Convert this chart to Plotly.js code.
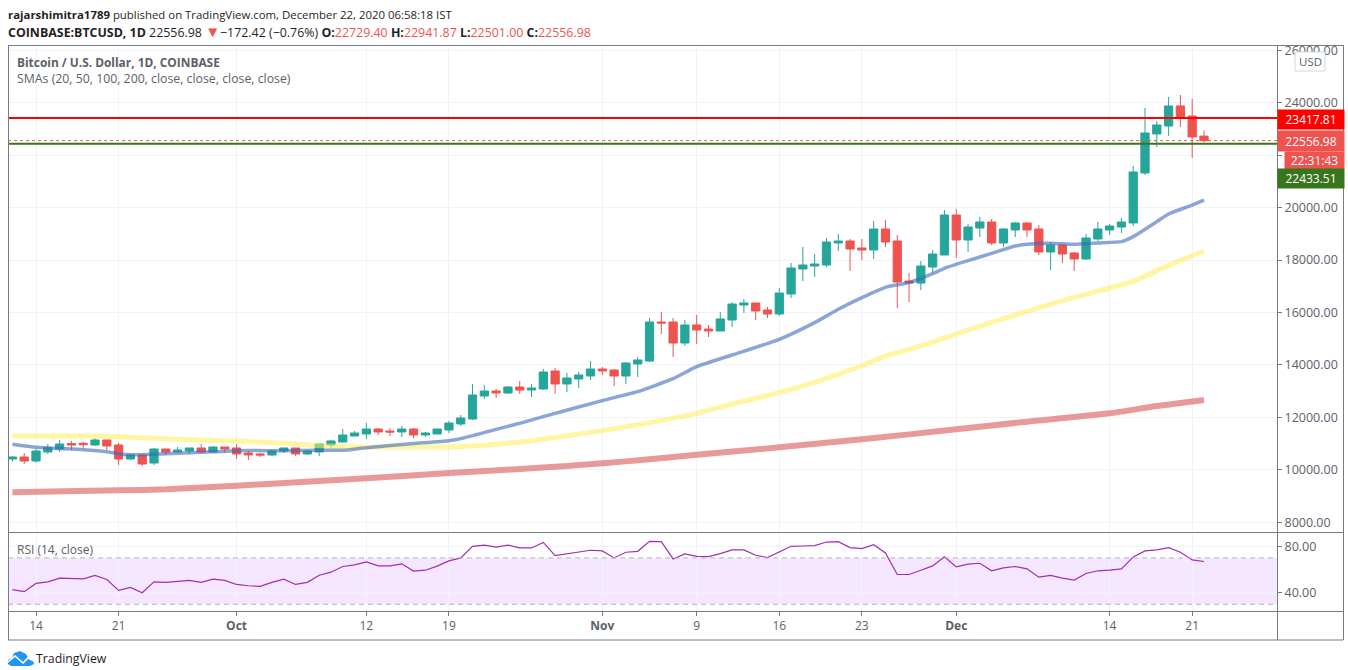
<!DOCTYPE html>
<html><head><meta charset="utf-8">
<script src="https://cdn.plot.ly/plotly-3.0.1.min.js"></script>
<style>html,body{margin:0;padding:0;background:#fff}#c{width:1348px;height:670px}</style>
</head><body><div id="c"></div>
<script>
const dates=["2020-09-12","2020-09-13","2020-09-14","2020-09-15","2020-09-16","2020-09-17","2020-09-18","2020-09-19","2020-09-20","2020-09-21","2020-09-22","2020-09-23","2020-09-24","2020-09-25","2020-09-26","2020-09-27","2020-09-28","2020-09-29","2020-09-30",
"2020-10-01","2020-10-02","2020-10-03","2020-10-04","2020-10-05","2020-10-06","2020-10-07","2020-10-08","2020-10-09","2020-10-10","2020-10-11","2020-10-12","2020-10-13","2020-10-14","2020-10-15","2020-10-16","2020-10-17","2020-10-18","2020-10-19","2020-10-20","2020-10-21","2020-10-22","2020-10-23","2020-10-24","2020-10-25","2020-10-26","2020-10-27","2020-10-28","2020-10-29","2020-10-30","2020-10-31",
"2020-11-01","2020-11-02","2020-11-03","2020-11-04","2020-11-05","2020-11-06","2020-11-07","2020-11-08","2020-11-09","2020-11-10","2020-11-11","2020-11-12","2020-11-13","2020-11-14","2020-11-15","2020-11-16","2020-11-17","2020-11-18","2020-11-19","2020-11-20","2020-11-21","2020-11-22","2020-11-23","2020-11-24","2020-11-25","2020-11-26","2020-11-27","2020-11-28","2020-11-29","2020-11-30",
"2020-12-01","2020-12-02","2020-12-03","2020-12-04","2020-12-05","2020-12-06","2020-12-07","2020-12-08","2020-12-09","2020-12-10","2020-12-11","2020-12-12","2020-12-13","2020-12-14","2020-12-15","2020-12-16","2020-12-17","2020-12-18","2020-12-19","2020-12-20","2020-12-21","2020-12-22"];
const opens=[10412,10488,10335,10679,10793,11000,11010,10946,11137,10946,10412,10565,10259,10793,10679,10717,10832,10679,10870,
10832,10641,10603,10565,10717,10832,10603,10679,10946,11060,
11289,11366,11556,11480,11442,11556,11328,11366,11518,11747,11938,12815,13006,12930,13158,13044,13082,13769,13273,13464,13578,
13845,13807,13578,14036,14150,15638,15638,14837,15524,15371,15295,15714,16286,16363,16096,15943,16706,17660,17774,17812,18652,18728,18461,18385,19186,18728,17202,17125,17736,18194,
19720,18766,19224,19453,18652,19148,19415,19186,18309,18576,18270,18042,18805,19148,19262,19415,21323,22811,23116,23879,23497,22729.40];
const highs=[10526,10641,10793,10984,11137,11099,11073,11213,11137,11022,10603,10565,10832,10793,10870,10832,10984,10908,10870,
10984,10717,10641,10755,10832,10832,10717,10984,11137,11556,
11480,11785,11595,11595,11671,11595,11442,11556,11862,12090,13272,13235,13082,13196,13387,13272,13845,13885,13693,13731,14150,
13922,13845,14112,14304,15790,16019,15790,15714,15905,15524,16020,16400,16515,16363,16210,16935,17889,18499,18232,18843,18995,18805,18805,19491,19529,18957,17507,17964,18385,19911,
19949,19377,19644,19568,19224,19453,19453,19339,18690,18576,18309,18995,19453,19377,19606,21590,23802,23307,24223,24299,24147,22941.87];
const lows=[10310,10221,10272,10603,10679,10755,10806,10908,10755,10183,10374,10145,10183,10565,10641,10603,10641,10641,10641,
10412,10374,10488,10527,10641,10527,10565,10527,10832,11060,
11289,11175,11328,11289,11251,11213,11251,11366,11404,11671,11900,12701,12739,12892,12892,12777,13044,12892,12968,13120,13426,
13616,13197,13273,13541,14112,15181,14303,14723,14798,15066,15295,15447,15981,15714,15790,15867,16554,17202,17355,17736,18347,17583,18003,18042,18500,16174,16401,16859,17507,18194,
18080,18309,18881,18576,18500,18881,18881,18194,17622,17889,17584,18004,18729,18957,19033,19300,21247,22315,22735,23078,21895,22501];
const closes=[10488,10335,10717,10844,10984,10946,10959,11137,10908,10412,10565,10221,10793,10679,10755,10832,10679,10870,10793,
10603,10565,10565,10717,10832,10603,10717,10984,11099,11327,
11404,11556,11442,11442,11556,11328,11404,11556,11785,11976,12853,13006,12930,13158,13044,13120,13731,13273,13502,13616,13845,
13769,13578,14074,14189,15638,15600,14837,15524,15333,15295,15753,16324,16363,16058,15943,16744,17698,17812,17850,18690,18728,18423,18385,19186,18690,17164,17125,17774,18232,19720,
18766,19262,19453,18652,19186,19415,19148,18309,18576,18232,18042,18843,19186,19300,19453,21361,22849,23154,23879,23421,22696,22556.98];
const rsi=[42.6,40.9,48,49.4,52.6,52.3,52,54.9,51.4,42,44.6,40,49.4,48.9,49.7,50.6,48.9,51.7,50.6,
47.1,46,45.4,48.9,51.7,47.1,48.9,55.1,57.7,62.6,64,66.6,63.1,63.1,64.9,58.6,59.4,62.9,67.4,70,80,81.1,79.4,81.1,78.6,78.6,83.4,72,73.4,74.6,76.6,
76,70,74.9,75.7,84.3,84,69.1,73.4,71.4,71.1,73.7,76.9,76.9,72.3,70.3,75.4,80,80.3,80.6,83.7,84,78.9,78,81.4,74.3,55.7,55.7,59.4,63.1,70.9,
62.3,64.6,65.4,58.9,61.4,62.6,60.6,53.4,54.9,52.6,50.9,56.6,58.9,59.4,60.6,70.9,76,76.9,78.9,74.9,68.3,66.9];

const sma20Dates=["2020-09-12","2020-09-14","2020-09-18","2020-09-20","2020-09-21","2020-09-22","2020-09-24","2020-09-28","2020-10-01","2020-10-05","2020-10-08","2020-10-10","2020-10-12","2020-10-16","2020-10-19","2020-10-20","2020-10-23","2020-10-25","2020-10-27","2020-11-01","2020-11-04","2020-11-07","2020-11-09","2020-11-12","2020-11-16","2020-11-19","2020-11-21","2020-11-23","2020-11-25","2020-11-27","2020-11-29","2020-11-30","2020-12-02","2020-12-04","2020-12-06","2020-12-07","2020-12-09","2020-12-11","2020-12-13","2020-12-15","2020-12-16","2020-12-18","2020-12-19","2020-12-21","2020-12-22"];
const sma20=[10972,10857,10768,10692,10615,10577,10590,10666,10730,10730,10743,10745,10844,11000,11111,11188,11544,11773,12027,12640,12980,13477,13935,14380,14977,15613,16122,16566,16960,17138,17480,17686,17978,18257,18537,18600,18640,18600,18652,18703,18894,19466,19758,20101,20291];
const sma50Dates=["2020-09-12","2020-09-18","2020-09-21","2020-09-24","2020-09-28","2020-10-01","2020-10-05","2020-10-08","2020-10-12","2020-10-19","2020-10-22","2020-10-26","2020-11-01","2020-11-05","2020-11-09","2020-11-12","2020-11-16","2020-11-19","2020-11-23","2020-11-25","2020-11-28","2020-12-01","2020-12-04","2020-12-07","2020-12-10","2020-12-14","2020-12-16","2020-12-19","2020-12-22"];
const sma50=[11289,11289,11264,11200,11137,11099,11010,10921,10870,10870,10933,11111,11493,11798,12154,12510,12942,13337,13972,14340,14723,15180,15625,16045,16452,16935,17190,17800,18350];
const sma100Dates=["2020-09-12","2020-09-21","2020-09-25","2020-10-01","2020-10-12","2020-10-19","2020-10-26","2020-11-01","2020-11-05","2020-11-09","2020-11-16","2020-11-23","2020-12-01","2020-12-07","2020-12-14","2020-12-18","2020-12-22"];
const sma100=[9143,9217,9255,9395,9674,9878,10056,10247,10399,10570,10857,11162,11544,11836,12154,12433,12662];

const xTickVals=["2020-09-14","2020-09-21","2020-10-01","2020-10-12","2020-10-19","2020-11-01","2020-11-09","2020-11-16","2020-11-23","2020-12-01","2020-12-14","2020-12-21"];
const xTickText=["14","21","<b>Oct</b>","12","19","<b>Nov</b>","9","16","23","<b>Dec</b>","14","21"];
const priceTicks=[8000,10000,12000,14000,16000,18000,20000,22000,24000,26000];
const priceTickText=["8000.00","10000.00","12000.00","14000.00","16000.00","18000.00","20000.00","","24000.00","26000.00"];
const rsiTicks=[40,80];
const resistance=23417.81, support=22433.51, lastClose=22556.98;

const L=8,R=1277,T=45,B=639,W=R-L,H=B-T;
const px=x=>(x-L)/W, py=y=>(B-y)/H;
const axisGrey='#787b86', textGrey='#5d606b', gridC='#f0f3fa';
const FF='"Open Sans", sans-serif', TF='"Open Sans", sans-serif';

const traces=[
 {type:'candlestick',x:dates,open:opens,high:highs,low:lows,close:closes,xaxis:'x',yaxis:'y',
  increasing:{line:{color:'#26a69a',width:1},fillcolor:'#26a69a'},
  decreasing:{line:{color:'#ef5350',width:1},fillcolor:'#ef5350'},whiskerwidth:0,hoverinfo:'skip',showlegend:false},
 {type:'scatter',mode:'lines',x:sma100Dates,y:sma100,line:{color:'rgba(222,110,110,0.7)',width:6,shape:'spline',smoothing:0.5},xaxis:'x',yaxis:'y',hoverinfo:'skip',showlegend:false},
 {type:'scatter',mode:'lines',x:sma50Dates,y:sma50,line:{color:'rgba(255,238,88,0.55)',width:5,shape:'spline',smoothing:0.5},xaxis:'x',yaxis:'y',hoverinfo:'skip',showlegend:false},
 {type:'scatter',mode:'lines',x:sma20Dates,y:sma20,line:{color:'rgba(60,105,190,0.6)',width:3.5,shape:'spline',smoothing:0.5},xaxis:'x',yaxis:'y',hoverinfo:'skip',showlegend:false},
 {type:'scatter',mode:'lines',x:dates,y:rsi,line:{color:'#a32db5',width:1.2},xaxis:'x',yaxis:'y2',hoverinfo:'skip',showlegend:false}
];

const hl=(y,x0,x1)=>({type:'line',xref:'paper',yref:'paper',x0:px(x0),x1:px(x1),y0:py(y),y1:py(y),line:{color:axisGrey,width:1},layer:'above'});
const vl=(x,y0,y1)=>({type:'line',xref:'paper',yref:'paper',x0:px(x),x1:px(x),y0:py(y0),y1:py(y1),line:{color:axisGrey,width:1},layer:'above'});
const shapes=[
 {type:'rect',xref:'paper',yref:'y2',x0:0,x1:1,y0:30,y1:70,fillcolor:'rgba(156,39,255,0.11)',line:{width:0},layer:'below'},
 {type:'line',xref:'paper',yref:'y2',x0:0,x1:1,y0:70,y1:70,line:{color:'#b2b5be',width:1,dash:'5px,4px'}},
 {type:'line',xref:'paper',yref:'y2',x0:0,x1:1,y0:30,y1:30,line:{color:'#b2b5be',width:1,dash:'5px,4px'}},
 {type:'line',xref:'paper',yref:'y',x0:0,x1:1,y0:lastClose,y1:lastClose,line:{color:'#ef5350',width:1,dash:'dot'}},
 {type:'line',xref:'paper',yref:'y',x0:0,x1:1,y0:resistance,y1:resistance,line:{color:'#ff0000',width:2}},
 {type:'line',xref:'paper',yref:'y',x0:0,x1:1,y0:support,y1:support,line:{color:'#38761d',width:2}},
 hl(45.5,8,1343),hl(532.5,8,1343),hl(611.5,8,1343),hl(640,8,1343),
 vl(8.5,45,640),vl(1277.5,45,640),vl(1343.5,45,640),
 {type:'rect',xref:'paper',yref:'paper',x0:px(1295),x1:px(1325),y0:py(71),y1:py(52),fillcolor:'#fff',line:{color:'#d1d4dc',width:1},layer:'above'},
 {type:'path',xref:'paper',yref:'paper',layer:'above',fillcolor:'#2196f3',line:{width:0},
  path:[[8,664],[8,660],[12,658],[14,653],[20,651],[26,654],[28,658],[33,660],[34,664],[30,666],[11,666]].map((p,i)=>(i?'L':'M')+px(p[0])+','+py(p[1])).join(' ')+' Z'},
 {type:'path',xref:'paper',yref:'paper',layer:'above',line:{color:'#fff',width:1.6},
  path:[[8,662],[15,656],[23,663],[28,658],[34,661]].map((p,i)=>(i?'L':'M')+px(p[0])+','+py(p[1])).join(' ')}
];

const txt=(x,y,text,size,color,extra)=>Object.assign({xref:'paper',yref:'paper',x:px(x-2),y:py(y),text,showarrow:false,xanchor:'left',yanchor:'middle',align:'left',font:{family:FF,size,color}},extra||{});
const tag=(x,y0,y1,text,bg)=>({xref:'paper',yref:'paper',x:px(x),y:py(y0),xanchor:'left',yanchor:'top',width:1343-x,height:y1-y0,text,showarrow:false,bgcolor:bg,borderpad:0,align:'center',valign:'middle',font:{family:TF,size:12,color:'#fff'}});
const red='<span style="color:#ef5350">', e='</span>';
const annotations=[
 txt(8,14,'<b>rajarshimitra1789</b> published on TradingView.com, December 22, 2020 06:58:18 IST',11.4,'#1f1f1f'),
 txt(8,31,'<b>COINBASE:BTCUSD, 1D</b> 22556.98 '+red+'<span style="font-size:15px">▼</span>'+e+'−172.42 (−0.76%) <b>O:</b>'+red+'22729.40'+e+' <b>H:</b>'+red+'22941.87'+e+' <b>L:</b>'+red+'22501.00'+e+' <b>C:</b>'+red+'22556.98'+e,12.4,'#1f1f1f'),
 txt(17,62,'<b>Bitcoin / U.S. Dollar, 1D, COINBASE</b>',11.9,textGrey),
 txt(17,79,'SMAs (20, 50, 100, 200, close, close, close, close)',12.3,textGrey),
 txt(17,549,'RSI (14, close)',12,textGrey),
 txt(1299,61.5,'USD',11.5,textGrey),
 txt(36,658.5,'TradingView',12.3,'#1f1f1f'),
 tag(1277,109,128,'23417.81','#ff0000'),
 tag(1277,130,150,'22556.98','#ef5350'),
 tag(1284,151,168,'22:31:43','#ef5350'),
 tag(1277,168,187,'22433.51','#38761d')
];

const layout={
 width:1348,height:670,margin:{l:L,r:1348-R,t:T,b:670-B},paper_bgcolor:'#fff',plot_bgcolor:'#fff',showlegend:false,boxmode:'group',boxgap:0.3,boxgroupgap:0,
 font:{family:TF,size:12,color:textGrey},
 xaxis:{type:'date',anchor:'y2',domain:[0,1],range:['2020-09-11 15:00','2020-12-28 04:30'],tickmode:'array',tickvals:xTickVals,ticktext:xTickText,
   showgrid:true,gridcolor:gridC,gridwidth:1,ticks:'outside',ticklen:4,tickcolor:axisGrey,zeroline:false,showline:false,rangeslider:{visible:false},tickfont:{family:TF,size:12,color:textGrey},fixedrange:true},
 yaxis:{domain:[py(531),1],range:[7665,26205],side:'right',anchor:'x',tickmode:'array',tickvals:priceTicks,ticktext:priceTickText,
   showgrid:true,gridcolor:gridC,gridwidth:1,ticks:'outside',ticklen:4,tickcolor:axisGrey,zeroline:false,showline:false,tickfont:{family:TF,size:12.5,color:textGrey},fixedrange:true},
 yaxis2:{domain:[py(611),py(533)],range:[24.2,91.5],side:'right',anchor:'x',tickmode:'array',tickvals:rsiTicks,ticktext:rsiTicks.map(v=>v.toFixed(2)),
   showgrid:true,gridcolor:gridC,gridwidth:1,ticks:'outside',ticklen:4,tickcolor:axisGrey,zeroline:false,showline:false,tickfont:{family:TF,size:12.5,color:textGrey},fixedrange:true},
 shapes,annotations
};
Plotly.newPlot('c',traces,layout,{staticPlot:true,displayModeBar:false});
</script></body></html>
